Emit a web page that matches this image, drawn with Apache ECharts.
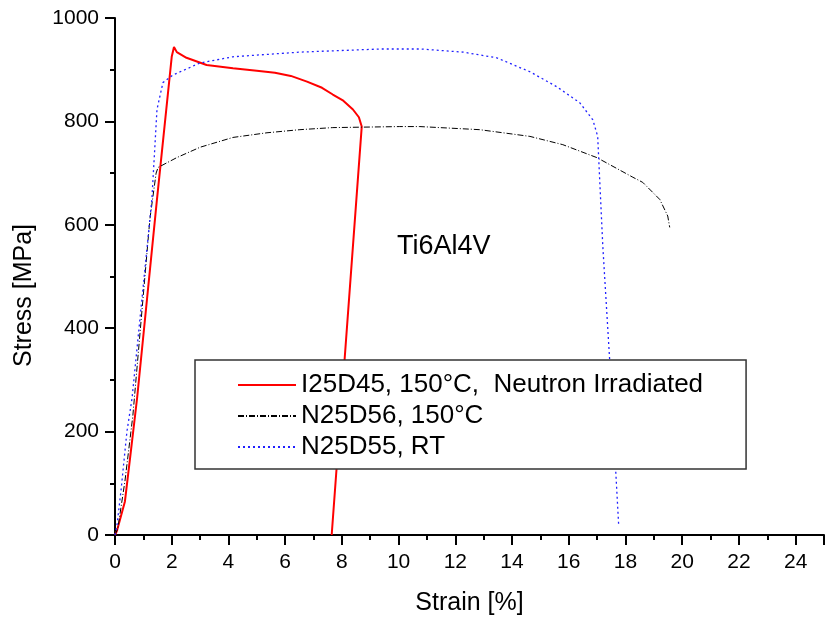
<!DOCTYPE html>
<html>
<head>
<meta charset="utf-8">
<script src="https://cdn.jsdelivr.net/npm/echarts@6/dist/echarts.min.js"></script>
<style>
  html, body { margin: 0; padding: 0; background: #fff; }
  #chart { width: 827px; height: 621px; }
</style>
</head>
<body>
<div id="chart"></div>
<script>
// I25D45, 150°C, neutron irradiated
const strainRed = [0, 0.07, 0.35, 0.53, 0.78, 1.48, 2.0, 2.08, 2.18, 2.52, 3.23, 4.16, 5.0, 5.64, 6.2, 6.77, 7.3, 7.68, 8.05, 8.39, 8.6, 8.7, 7.64];
const stressRed = [0, 8, 65, 148, 265, 649, 925, 944, 934, 923, 909, 903, 898, 894, 888, 877, 865, 852, 840, 823, 808, 790, 0];

// N25D56, 150°C
const strainBlack = [0, 0.1, 0.35, 0.63, 1.23, 1.45, 1.52, 2.18, 3.0, 4.16, 5.36, 6.52, 7.68, 10.04, 10.75, 12.86, 14.63, 15.79, 16.99, 18.26, 18.61, 19.21, 19.49, 19.56];
const stressBlack = [0, 13, 104, 231, 611, 700, 711, 730, 750, 769, 778, 784, 788, 790, 790, 784, 771, 755, 730, 692, 682, 649, 617, 595];

// N25D55, RT
const strainBlue = [0, 0.07, 0.21, 0.42, 0.6, 1.3, 1.48, 1.69, 2.05, 3.0, 4.16, 6.52, 9.34, 10.8, 12.27, 13.46, 14.63, 15.58, 16.39, 16.85, 17.02, 17.09, 17.2, 17.44, 17.76];
const stressBlue = [0, 19, 85, 200, 264, 649, 823, 875, 890, 913, 925, 934, 940, 940, 934, 923, 896, 867, 836, 803, 771, 688, 559, 341, 19];

const seriesNames = ['I25D45, 150°C,  Neutron Irradiated', 'N25D56, 150°C', 'N25D55, RT'];

const zip = (xs, ys) => xs.map((x, i) => [x, ys[i]]);

const chart = echarts.init(document.getElementById('chart'));
const font = 'Liberation Sans';

const axisCommon = {
    axisLine: { show: true, onZero: false, lineStyle: { color: '#000', width: 2 } },
    axisTick: { show: true, inside: false, length: 10, lineStyle: { color: '#000', width: 2 } },
    minorTick: { show: true, splitNumber: 2, length: 5, lineStyle: { color: '#000', width: 2 } },
    splitLine: { show: false },
};

chart.setOption({
    animation: false,
    backgroundColor: '#fff',
    grid: { left: 115, right: 3, top: 18, bottom: 84, containLabel: false },
    xAxis: Object.assign({}, axisCommon, {
        type: 'value',
        min: 0,
        max: 25,
        interval: 2,
        name: 'Strain [%]',
        nameLocation: 'middle',
        nameGap: 56,
        nameTextStyle: { color: '#000', fontSize: 25, fontFamily: font },
        axisLabel: { color: '#000', fontSize: 21, fontFamily: font, margin: 17, showMaxLabel: false },
    }),
    yAxis: Object.assign({}, axisCommon, {
        type: 'value',
        min: 0,
        max: 1000,
        interval: 200,
        name: 'Stress [MPa]',
        nameLocation: 'middle',
        nameGap: 78,
        nameTextStyle: { color: '#000', fontSize: 25, fontFamily: font, padding: [0, 38, 0, 0] },
        axisLabel: { color: '#000', fontSize: 21, fontFamily: font, margin: 16, formatter: v => String(v) },
    }),
    legend: {
        orient: 'vertical',
        left: 195,
        top: 360,
        padding: [12, 43, 9, 42],
        itemWidth: 58,
        itemHeight: 14,
        itemGap: 5,
        backgroundColor: '#fff',
        borderColor: '#333',
        borderWidth: 1.5,
        z: 10,
        itemStyle: { opacity: 0 },
        textStyle: { color: '#000', fontSize: 26, fontFamily: font, lineHeight: 26 },
        data: seriesNames,
    },
    graphic: [{
        type: 'text',
        left: 397,
        top: 233,
        style: { text: 'Ti6Al4V', fill: '#000', fontSize: 27, fontFamily: font },
    }],
    series: [
        {
            name: seriesNames[0],
            type: 'line',
            symbol: 'none',
            data: zip(strainRed, stressRed),
            lineStyle: { color: '#ff0000', width: 2 },
            itemStyle: { color: '#ff0000' },
            z: 3,
        },
        {
            name: seriesNames[1],
            type: 'line',
            symbol: 'none',
            data: zip(strainBlack, stressBlack),
            lineStyle: { color: '#000', width: 1, type: [6, 2, 1, 2] },
            itemStyle: { color: '#000' },
        },
        {
            name: seriesNames[2],
            type: 'line',
            symbol: 'none',
            data: zip(strainBlue, stressBlue),
            lineStyle: { color: '#2020ff', width: 1.3, type: [2, 3] },
            itemStyle: { color: '#2020ff' },
        },
    ],
});
</script>
</body>
</html>
